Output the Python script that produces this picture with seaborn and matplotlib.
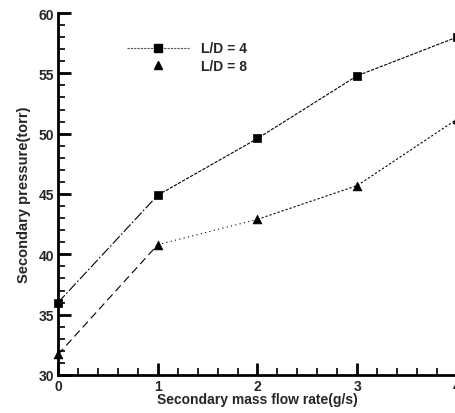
import matplotlib
matplotlib.use("Agg")
import matplotlib.pyplot as plt
import seaborn as sns
import pandas as pd
from matplotlib.lines import Line2D
from matplotlib.ticker import MultipleLocator

flow = [0, 1, 2, 3, 4]
p_ld4 = [36.0, 44.9, 49.6, 54.8, 58.0]
p_ld8 = [31.7, 40.8, 42.9, 45.7, 51.2]
labels = ["L/D = 4", "L/D = 8"]

sns.set_style("ticks")
plt.rcParams["font.family"] = ["Liberation Sans", "DejaVu Sans"]
plt.rcParams["font.weight"] = "bold"

fig = plt.figure(figsize=(4.56, 4.14), dpi=100)
ax = fig.add_axes([58/456, 1-376/414, (457-58)/456, (376-14)/414])

df4 = pd.DataFrame({"flow": flow, "p": p_ld4})
df8 = pd.DataFrame({"flow": flow, "p": p_ld8})

# line segments with varying dash patterns (as in the reference)
seg_styles4 = [((0, 1), (0, (9, 2, 1.5, 2))), ((1, 4), (0, (3, 1.2)))]
seg_styles8 = [((0, 1), (0, (7, 4))), ((1, 2), (0, (1, 3))), ((2, 4), (0, (2, 1.8)))]
for df, segs in [(df4, seg_styles4), (df8, seg_styles8)]:
    for (a, b), ls in segs:
        sub = df[(df.flow >= a) & (df.flow <= b)]
        sns.lineplot(data=sub, x="flow", y="p", ax=ax, color="black", lw=0.8,
                     linestyle=ls, clip_on=False)

sns.scatterplot(data=df4, x="flow", y="p", ax=ax, color="black", marker="s",
                s=36, edgecolor="black", linewidth=0.5, clip_on=False, zorder=5)
sns.scatterplot(data=df8, x="flow", y="p", ax=ax, color="black", marker="^",
                s=40, edgecolor="black", linewidth=0.5, clip_on=False, zorder=5)

ax.set_xlim(0, 4)
ax.set_ylim(30, 60)
ax.xaxis.set_major_locator(MultipleLocator(1))
ax.xaxis.set_minor_locator(MultipleLocator(0.2))
ax.yaxis.set_major_locator(MultipleLocator(5))
ax.yaxis.set_minor_locator(MultipleLocator(1))
ax.tick_params(which="both", direction="in", color="black",
               labelsize=10, pad=3)
ax.tick_params(which="major", length=9, width=2)
ax.tick_params(which="minor", length=5, width=1.2)
for lab in ax.get_xticklabels() + ax.get_yticklabels():
    lab.set_fontweight("bold")
for s in ["top", "right"]:
    ax.spines[s].set_visible(False)
for s in ["left", "bottom"]:
    ax.spines[s].set_linewidth(2)
    ax.spines[s].set_color("black")

ax.set_xlabel("Secondary mass flow rate(g/s)", fontsize=10, fontweight="bold", labelpad=-1)
ax.set_ylabel("Secondary pressure(torr)", fontsize=10.5, fontweight="bold", labelpad=5)

handles = [Line2D([], [], color="#555555", lw=0.8, linestyle=(0, (2, 1)), marker="s",
                  markersize=6, markerfacecolor="black", markeredgecolor="black"),
           Line2D([], [], color="black", lw=0, marker="^", markersize=6)]
leg = ax.legend(handles, labels, loc="upper left", bbox_to_anchor=(0.16, 0.937),
                frameon=False, handlelength=4.4, handletextpad=0.9,
                labelspacing=0.25, borderaxespad=0,
                prop={"size": 10, "weight": "bold"})

fig.savefig("out.png", dpi=100)
